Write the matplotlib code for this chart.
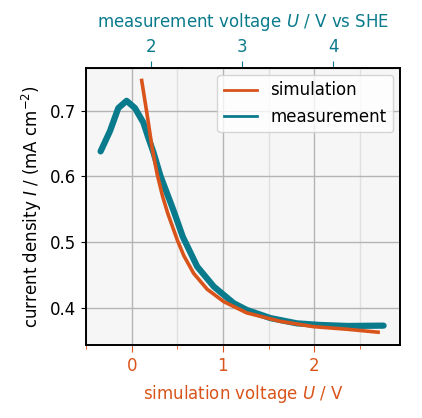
import matplotlib
matplotlib.use("Agg")
import matplotlib.pyplot as plt
from matplotlib.ticker import MultipleLocator, FixedLocator
from matplotlib.lines import Line2D

orange = "#d9541a"
teal = "#0a7b8c"

# offset between simulation and measurement voltage axis
offset = 1.79

sim_u = [0.11, 0.164, 0.226, 0.28, 0.34, 0.397, 0.50, 0.572, 0.68, 0.827, 1.01, 1.26,
         1.63, 1.99, 2.36, 2.70]
sim_i = [0.746, 0.699, 0.642, 0.603, 0.569, 0.543, 0.503, 0.479, 0.452, 0.428, 0.409, 0.392,
         0.379, 0.371, 0.367, 0.3625]

meas_u = [-0.34, -0.237, -0.146, -0.055, 0.036, 0.128, 0.18, 0.24, 0.317, 0.456, 0.56,
          0.718, 0.90, 1.118, 1.26, 1.52, 1.81, 2.07, 2.36, 2.76]
meas_i = [0.638, 0.669, 0.704, 0.715, 0.704, 0.682, 0.660, 0.636, 0.600, 0.549, 0.508,
          0.4625, 0.432, 0.4067, 0.3965, 0.384, 0.376, 0.3735, 0.372, 0.3725]

fig = plt.figure(figsize=(4.22, 4.18), dpi=100)
ax = fig.add_axes([86/422, 1 - 345/418, (400-86)/422, (345-68)/418])
ax.set_facecolor("#f6f6f6")

ax.plot(meas_u, meas_i, color=teal, lw=4.5, solid_capstyle="round", solid_joinstyle="round", zorder=2)
ax.plot(sim_u, sim_i, color=orange, lw=2.6, solid_joinstyle="round", zorder=3)

ax.set_xlim(-0.5, 2.94)
ax.set_ylim(0.343, 0.765)
ax.xaxis.set_major_locator(MultipleLocator(1))
ax.xaxis.set_minor_locator(MultipleLocator(0.5))
ax.yaxis.set_major_locator(MultipleLocator(0.1))
ax.grid(which="major", color="#b4b4b4", lw=1)
ax.grid(which="minor", axis="x", color="#e0e0e0", lw=1)
ax.set_axisbelow(True)

ax.tick_params(axis="x", which="both", colors=orange, labelsize=12)
ax.tick_params(axis="x", which="major", length=5)
ax.tick_params(axis="x", which="minor", length=3)
ax.tick_params(axis="y", labelsize=12)
for s in ax.spines.values():
    s.set_linewidth(1.4)

ax.set_xlabel("simulation voltage $U$ / V", color=orange, fontsize=12, labelpad=6)
ax.set_ylabel("current density $I$ / (mA cm$^{-2}$)", fontsize=12)

top = ax.secondary_xaxis("top", functions=(lambda x: x + offset, lambda x: x - offset))
top.xaxis.set_major_locator(FixedLocator([2, 3, 4]))
top.tick_params(axis="x", colors=teal, labelsize=12, length=5)
top.set_xlabel("measurement voltage $U$ / V vs SHE", color=teal, fontsize=12, labelpad=8)

handles = [Line2D([], [], color=orange, lw=2), Line2D([], [], color=teal, lw=2)]
ax.legend(handles, ["simulation", "measurement"], loc="upper right", fontsize=12,
          framealpha=0.8, borderaxespad=0.4)

fig.savefig("out.png", dpi=100)
